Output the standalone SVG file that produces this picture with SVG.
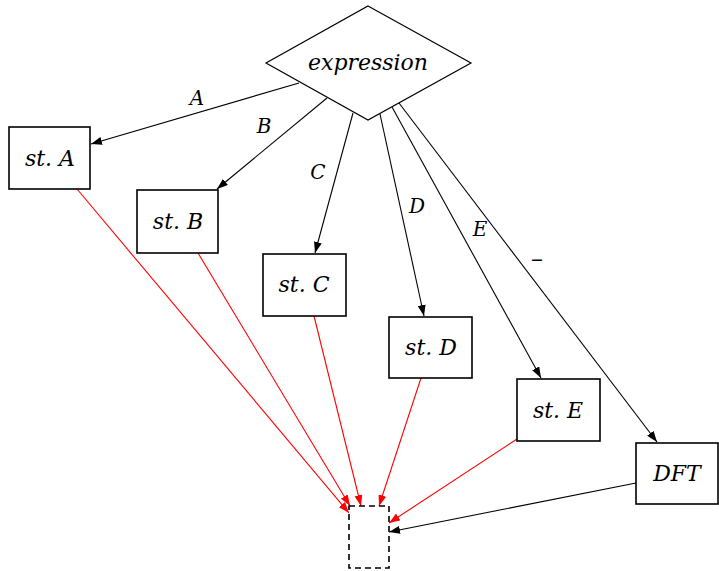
<svg xmlns="http://www.w3.org/2000/svg" width="719" height="571" viewBox="0 0 719 571">
<style>
.box{fill:#fff;stroke:#000;stroke-width:1.6}
.dia{fill:#fff;stroke:#000;stroke-width:1.2}
.dash{fill:#fff;stroke:#000;stroke-width:1.6;stroke-dasharray:6 4}
text{font-family:'DejaVu Serif',serif;font-style:italic;text-anchor:middle;fill:#000}
.t{font-size:22px}
.l{font-size:20px}
.e{fill:none;stroke:#000;stroke-width:1.1}
.r{fill:none;stroke:#f00;stroke-width:1.1}
</style>
<defs>
<marker id="ab" markerUnits="userSpaceOnUse" markerWidth="12" markerHeight="8" refX="11" refY="4" orient="auto"><path d="M0,0 L11,4 L0,8 z" fill="#000"/></marker>
<marker id="ar" markerUnits="userSpaceOnUse" markerWidth="12" markerHeight="8" refX="11" refY="4" orient="auto"><path d="M0,0 L11,4 L0,8 z" fill="#f00"/></marker>
</defs>
<rect width="719" height="571" fill="#fff"/>
<g id="connectors">
<line class="e" x1="299" y1="83" x2="91" y2="144" marker-end="url(#ab)"/>
<line class="e" x1="327" y1="98" x2="217" y2="189" marker-end="url(#ab)"/>
<line class="e" x1="353" y1="113" x2="315" y2="253" marker-end="url(#ab)"/>
<line class="e" x1="380" y1="114" x2="424" y2="316" marker-end="url(#ab)"/>
<line class="e" x1="392" y1="107" x2="541" y2="378" marker-end="url(#ab)"/>
<line class="e" x1="399" y1="103" x2="657" y2="442" marker-end="url(#ab)"/>
<line class="r" x1="77" y1="189" x2="349" y2="513" marker-end="url(#ar)"/>
<line class="r" x1="198" y1="253" x2="350" y2="506" marker-end="url(#ar)"/>
<line class="r" x1="314" y1="316" x2="361" y2="506" marker-end="url(#ar)"/>
<line class="r" x1="421" y1="378" x2="379" y2="506" marker-end="url(#ar)"/>
<line class="r" x1="517" y1="439" x2="389" y2="523" marker-end="url(#ar)"/>
<line class="e" x1="636" y1="483" x2="389" y2="532" marker-end="url(#ab)"/>
<text class="l" x="197" y="105">A</text>
<text class="l" x="264" y="133">B</text>
<text class="l" x="318" y="179">C</text>
<text class="l" x="417" y="213">D</text>
<text class="l" x="480" y="236">E</text>
<text class="l" x="537" y="267" style="font-size:24px">–</text>
</g>
<g id="expression"><polygon class="dia" points="368,6 471,63 368,120 266,63"/><text class="t" x="368" y="70">expression</text></g>
<g id="stA"><rect class="box" x="9" y="127" width="81" height="62"/><text class="t" x="50" y="166">st. A</text></g>
<g id="stB"><rect class="box" x="137" y="190" width="81" height="63"/><text class="t" x="178" y="229">st. B</text></g>
<g id="stC"><rect class="box" x="263" y="254" width="83" height="62"/><text class="t" x="304" y="292">st. C</text></g>
<g id="stD"><rect class="box" x="389" y="317" width="83" height="61"/><text class="t" x="431" y="355">st. D</text></g>
<g id="stE"><rect class="box" x="517" y="379" width="83" height="62"/><text class="t" x="558" y="418">st. E</text></g>
<g id="DFT"><rect class="box" x="636" y="443" width="82" height="61"/><text class="t" x="677" y="481">DFT</text></g>
<g id="sink"><rect class="dash" x="349" y="506" width="40" height="62"/></g>
</svg>
